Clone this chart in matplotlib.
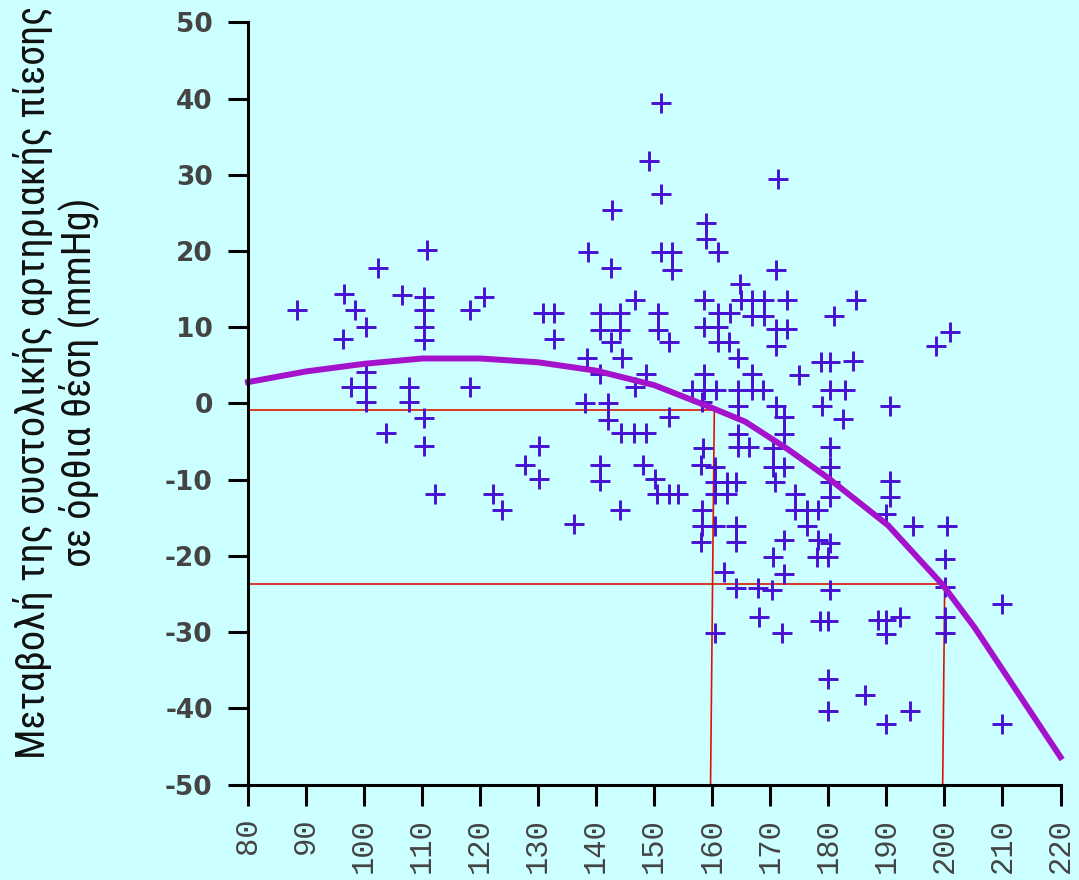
import matplotlib
matplotlib.use("Agg")
import matplotlib.pyplot as plt
from matplotlib import font_manager as fm

# ---------------- data ----------------
scatter_x = [
    88.5, 96.5, 98.4, 96.3, 97.8, 100.4, 100.4, 100.4, 100.4, 102.4, 103.8, 106.5,
    107.8, 107.8, 110.3, 110.3, 110.3, 110.3, 110.8, 110.3, 110.3, 112.3, 118.3,
    118.3, 120.7, 122.3, 123.8, 127.8, 130.2, 130.2, 130.9, 132.7, 132.7,
    136.2, 138.4, 138.1, 138.6, 140.6, 140.6, 140.6, 140.6, 140.6, 142.6, 142.7,
    142.5, 142.1, 142.1, 144.1, 144.1, 144.4, 144.2, 144.1, 146.7, 146.7, 146.5,
    148.6, 148.5, 148.1, 149.1, 150.6, 150.6, 150.2, 150.5, 151.1, 151.1, 151.1,
    153.1, 153.1, 152.5, 152.5, 152.5, 154.1, 156.5,
    158.5, 158.5, 158.5, 158.5, 158.2, 158.4, 158.0, 158.2, 158.2, 158.0, 159.0,
    159.0, 161.0, 161.0, 161.0, 161.0, 160.6, 160.5, 160.5, 160.5, 160.5, 160.5,
    162.8, 163.1, 162.5, 162.5, 162.0, 164.7, 164.5, 164.5, 164.5, 164.5, 164.5,
    164.0, 164.0, 164.0, 164.0, 165.0, 166.8, 166.8, 166.8, 166.9, 166.3, 167.8,
    168.0, 168.9, 168.9, 168.8,
    170.9, 171.4, 170.9, 170.9, 170.9, 170.4, 170.5, 170.8, 170.4, 170.3, 172.8,
    172.8, 172.3, 172.3, 172.4, 172.4, 172.4, 172.0, 175.0, 174.2, 174.2, 176.4,
    176.4,
    178.7, 180.3, 178.9, 178.3, 178.3, 178.0, 178.6, 180.3, 180.3, 180.3, 180.3,
    180.3, 180.3, 179.9, 180.3, 179.9, 179.9, 179.9, 181.0, 182.9, 182.5, 184.3,
    184.7, 186.3,
    188.5, 190.0, 190.0, 190.0, 190.0, 190.6, 190.6, 190.6, 192.3, 194.0, 194.6,
    198.5, 201.0, 200.5, 200.1, 200.1, 200.1, 200.1, 210.0, 210.0,
]
scatter_y = [
    12.2, 14.3, 12.2, 8.4, 2.1, 10.0, 4.1, 2.1, 0.2, 17.8, -3.9, 14.2,
    2.1, 0.2, 14.0, 12.2, 10.0, 8.3, 20.2, -1.9, -5.6, -11.9, 12.2,
    2.1, 14.0, -11.9, -14.0, -8.1, -5.6, -9.9, 11.9, 11.9, 8.4,
    -15.8, 5.9, 0.0, 19.9, 11.9, 9.7, 3.9, -8.1, -10.2, 17.8, 25.4,
    8.0, 0.0, -2.2, 11.9, 9.7, 5.9, -3.9, -14.0, 13.6, 2.1, -3.9,
    3.8, -3.9, -8.1, 31.8, 11.9, 9.7, -9.9, -11.9, 39.4, 27.5, 19.9,
    19.9, 17.5, 8.0, -1.8, -11.9, -11.9, 1.7,
    13.6, 10.0, 3.9, 1.7, 0.2, -5.9, -8.1, -14.0, -16.1, -18.2, 23.7,
    21.6, 19.9, 11.9, 10.0, 8.0, 1.7, -8.4, -10.3, -11.9, -16.1, -30.1,
    8.0, 11.9, -10.3, -11.9, -22.1, 15.7, 5.9, 1.7, -0.3, -4.0, -5.7,
    -10.3, -16.1, -18.2, -24.2, 13.6, 13.6, 11.5, 3.9, 1.7, -5.7, -24.2,
    -28.0, 13.6, 11.5, 1.7,
    17.5, 29.4, 9.8, 7.6, -0.3, -5.8, -8.4, -10.3, -20.2, -24.5, 13.6,
    9.8, -1.8, -4.0, -8.4, -17.9, -22.4, -30.1, 3.7, -11.9, -14.0, -14.0,
    -16.1,
    5.5, 5.5, -0.4, -14.0, -17.9, -20.2, -28.5, 1.7, -5.7, -8.3, -10.3,
    -12.3, -18.3, -20.2, -24.5, -28.5, -36.1, -40.3, 11.5, 1.7, -2.1, 5.6,
    13.6, -38.2,
    -28.4, -28.4, -30.2, -42.0, -14.5, -0.4, -10.2, -12.3, -28.0, -40.3, -16.1,
    7.6, 9.4, -16.1, -20.4, -24.1, -28.0, -30.1, -26.3, -42.0,
]

curve_x = [80, 90, 100, 110, 120, 130, 140, 150, 160, 165.7, 173, 180, 190.3, 199.7, 205.2, 220]
curve_y = [2.8, 4.2, 5.2, 5.9, 5.9, 5.4, 4.3, 2.4, -0.6, -2.4, -6.0, -9.8, -16.0, -23.8, -29.4, -46.4]

ref1_level = -0.9
ref1_x_top, ref1_x_bottom = 160.35, 159.7
ref2_level = -23.7
ref2_x_top, ref2_x_bottom = 200.05, 199.7

x_ticks = list(range(80, 221, 10))
y_ticks = list(range(-50, 51, 10))

ylabel_text = "Μεταβολή της συστολικής αρτηριακής πίεσης\nσε όρθια θέση (mmHg)"

# ---------------- style ----------------
BG = "#CCFFFF"
MARK = "#4810D2"
CURVE = "#A412CC"
RED = "#DD1500"

plt.rcParams["axes.unicode_minus"] = False


def pick_font(cands):
    for c in cands:
        try:
            fm.findfont(fm.FontProperties(family=c), fallback_to_default=False)
            return c
        except Exception:
            continue
    return "DejaVu Sans"


label_font = pick_font(["Liberation Sans Narrow", "Roboto Condensed", "Open Sans Condensed", "Roboto"])
mono_font = pick_font(["Liberation Mono", "DejaVu Sans Mono"])

fig = plt.figure(figsize=(10.79, 8.8), dpi=100, facecolor=BG)
ax = fig.add_axes([248 / 1079, 1 - 784.5 / 880, (1060.5 - 248) / 1079, (784.5 - 22.4) / 880])
ax.set_facecolor(BG)

ax.set_xlim(80, 220)
ax.set_ylim(-50, 50)

# reference lines
ax.plot([80, ref1_x_top], [ref1_level, ref1_level], color=RED, lw=1.2, zorder=2)
ax.plot([ref1_x_top, ref1_x_bottom], [ref1_level, -50], color=RED, lw=1.2, zorder=2)
ax.plot([80, ref2_x_top], [ref2_level, ref2_level], color=RED, lw=1.2, zorder=2)
ax.plot([ref2_x_top, ref2_x_bottom], [ref2_level, -50], color=RED, lw=1.2, zorder=2)

# scatter
ax.plot(scatter_x, scatter_y, linestyle="none", marker="+", markersize=14.5,
        markeredgewidth=2.1, color=MARK, zorder=3, clip_on=False)

# curve
ax.plot(curve_x, curve_y, color=CURVE, lw=4.3, zorder=4, solid_joinstyle="miter", clip_on=False)

for s in ["top", "right"]:
    ax.spines[s].set_visible(False)
for s in ["left", "bottom"]:
    ax.spines[s].set_linewidth(2.2)
    ax.spines[s].set_color("black")
    ax.spines[s].set_zorder(5)

ax.set_xticks(x_ticks)
ax.set_xticklabels([str(v) for v in x_ticks], rotation=90, family=mono_font,
                   fontsize=22, color="#444444")
ax.set_yticks(y_ticks)
ax.set_yticklabels([str(v) for v in y_ticks], fontsize=19, fontweight="bold",
                   color="#444444", family="DejaVu Sans")
ax.tick_params(axis="y", length=14.4, width=2.2, pad=11, direction="out")
ax.tick_params(axis="x", length=15, width=2.2, pad=9, direction="out")

fig.text(57 / 1079, 1 - 382 / 880, ylabel_text, rotation=90, ha="center", va="center",
         multialignment="center", fontsize=29, family=label_font, color="#111111",
         linespacing=1.2)

fig.savefig("out.png", dpi=100, facecolor=BG)
